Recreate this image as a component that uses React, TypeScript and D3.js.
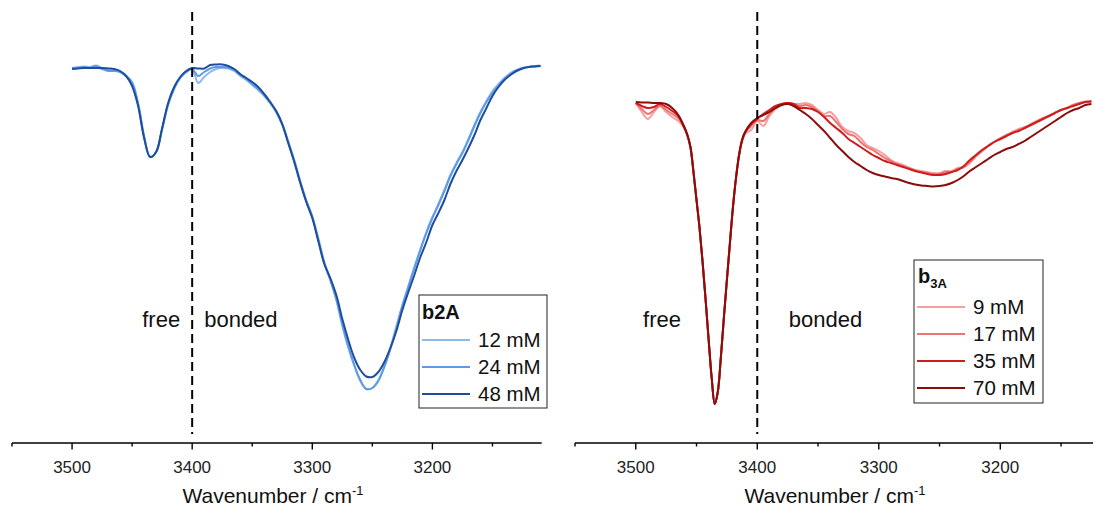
import React from "react";
import * as d3 from "d3";

// ---------- data ----------
// Left panel (b2A): wavenumber grid, cm-1
const b2AWavenumbers: number[] = d3.range(3500, 3109, -5);
const b2A_12mM = [93, 93.25, 93.38, 93.25, 93.63, 93, 92.5, 92.38, 92, 91, 89.5, 84.25, 76, 70.75, 72, 77.75, 83.75, 87.75, 90.5, 92, 92.75, 89.25, 90.75, 92, 92.75, 93, 92.88, 92.25, 91, 90, 88.75, 87.5, 86, 84.25, 82, 79, 74.75, 70, 64.75, 60, 56, 50.5, 44.5, 40, 35, 28.5, 23, 18.5, 14.75, 12.75, 13, 15, 18.5, 23, 28.5, 33.75, 38.5, 43.25, 47.75, 52, 55.75, 59, 62.5, 66.25, 69.25, 72, 75.25, 78.75, 82, 84.75, 87.25, 89, 90.5, 91.75, 92.5, 93, 93.25, 93.5, 93.63];
const b2A_24mM = [93, 93, 93.25, 93, 93.5, 92.75, 92.25, 92.25, 92, 91, 89.25, 84, 75.75, 70.75, 72, 77.75, 84, 88, 90.5, 92, 92.75, 91, 92, 92.88, 93.25, 93.25, 93.13, 92.5, 91.25, 90.25, 89, 87.75, 86.25, 84.25, 82, 78.75, 74.25, 69.75, 64.5, 59.75, 55.75, 50, 44.25, 40, 35.25, 29, 23.5, 18.75, 15, 12.75, 13, 14.75, 18.25, 22.75, 27.75, 33.5, 38.25, 43, 47.5, 51.75, 55.5, 58.75, 62.25, 66, 69, 71.75, 75, 78.5, 81.75, 84.5, 86.75, 88.5, 90.25, 91.5, 92.38, 93, 93.25, 93.38, 93.5];
const b2A_48mM = [92.75, 92.88, 93, 93, 93, 93, 92.88, 92.75, 92.25, 91, 88.5, 83.5, 75.5, 70.75, 72, 78, 84.25, 88.25, 90.75, 92.25, 93, 92.88, 92.88, 93.75, 93.88, 93.88, 93.5, 92.75, 91.5, 90.5, 89.5, 88.25, 86.5, 84.5, 82.25, 79, 74.25, 69.5, 64.25, 59.5, 55.5, 49.75, 44, 40.5, 36.25, 30.25, 25, 20.5, 17.5, 15.88, 15.75, 17, 19.5, 23, 27.25, 32.5, 37, 41.25, 45.75, 49.5, 53.75, 56.75, 60, 64, 67.25, 70, 73, 76.25, 80, 83, 86, 88.25, 90, 91.25, 92.25, 92.88, 93.25, 93.38, 93.5];

// Right panel (b3A)
const b3AWavenumbers: number[] = [
  ...d3.range(3500, 3462, -5),
  ...d3.range(3460, 3409, -2.5),
  ...d3.range(3405, 3124, -5),
];
const b3A_9mM = [84.25, 82, 80.25, 82, 83.5, 82, 80.75, 79.75,
  78, 76, 73.25, 67, 60, 53, 44.5, 35, 25, 15.5, 9, 12, 20.5, 30.5, 40, 49.25, 58.25, 65.5, 71, 74.5, 76.5,
  77.5, 79.75, 78.5, 81, 82.75, 83.75, 84.25, 84, 84, 84.25, 83.75, 82.5, 81.5, 82, 80.5, 78.25, 77.25, 76.75, 75.5, 73.75, 73, 72.25, 71.25, 70, 69.25, 68.75, 68, 67.5, 67.25, 67, 66.75, 66.75, 67.25, 67.25, 68, 68.25, 69.25, 71, 72.25, 73.5, 74.5, 75.5, 76.25, 77, 77.75, 78.25, 79, 79.75, 80.5, 81, 81.75, 82.5, 83, 83.75, 84.25, 84.63, 84.75];
const b3A_17mM = [84.25, 82.75, 81.5, 82.5, 83.5, 82.5, 81.5, 80.5,
  78.1, 76.1, 73.25, 67, 60, 53, 44.5, 35, 25, 15.5, 9, 12, 20.5, 30.5, 40, 49.25, 58.25, 65.5, 71.1, 74.75, 76.75,
  78.5, 80, 79.75, 81.5, 83, 84, 84.25, 84, 83.5, 83.75, 83.25, 82.25, 81, 81, 79.5, 77.75, 76.5, 76, 74.5, 73.25, 72.5, 71.5, 70.5, 69.75, 69, 68.5, 68, 67.38, 67, 66.75, 66.5, 66.5, 67, 67, 67.75, 68.25, 69.5, 71, 72.25, 73.5, 74.5, 75.25, 76, 76.75, 77.5, 78, 78.75, 79.5, 80.25, 81, 81.75, 82.5, 83, 83.75, 84.25, 84.5, 84.63];
const b3A_35mM = [84.25, 83.5, 83, 83.25, 84, 83.25, 82.25, 81,
  78, 76.25, 73.25, 67, 60, 53, 44.5, 35, 25, 15.5, 9, 12, 20.5, 30.5, 40, 49.25, 58.25, 65.5, 71.25, 75, 77,
  79, 80.25, 81.5, 82.5, 83.5, 84, 84.25, 84, 83, 83, 82.75, 82, 80.75, 79.25, 78, 76.75, 75.25, 74.25, 73.25, 72.25, 71.25, 70.5, 69.75, 69.25, 68.75, 68.25, 67.75, 67.25, 66.88, 66.5, 66.25, 66.25, 66.5, 67, 67.5, 68.5, 70, 71.25, 72.5, 73.5, 74.5, 75.25, 76, 76.75, 77.25, 78, 78.75, 79.5, 80.25, 81, 81.75, 82.5, 83, 83.5, 84, 84.5, 84.63];
const b3A_70mM = [84.5, 84.38, 84.38, 84.25, 84.25, 84, 83, 81.25,
  78.25, 76.25, 73.25, 67, 60, 53, 44.5, 35, 25, 15.5, 9, 12, 20.5, 30.5, 40, 49.25, 58.25, 65.5, 71.25, 75, 77,
  79.25, 80.5, 81.25, 82, 83, 83.75, 84, 83.5, 82.5, 81.5, 80.25, 78.75, 77.25, 75.5, 73.75, 72.25, 70.75, 69.5, 68.5, 67.5, 66.75, 66.25, 65.88, 65.5, 65.25, 64.75, 64.25, 63.88, 63.63, 63.5, 63.38, 63.5, 63.75, 64.25, 65, 66, 67.25, 68.25, 69.25, 70.25, 71.25, 72, 72.75, 73.25, 74, 74.75, 75.75, 76.75, 77.75, 78.75, 79.75, 80.75, 81.75, 82.5, 83, 83.75, 84];

const majorTicks = [3500, 3400, 3300, 3200];
const minorTicks = [3550, 3450, 3350, 3250, 3150];
const dividerWavenumber = 3400;

const b2ALabels = ["12 mM", "24 mM", "48 mM"];
const b3ALabels = ["9 mM", "17 mM", "35 mM", "70 mM"];
const b2AColors = ["#8db9ec", "#5f9ae6", "#1d4e9e"];
const b3AColors = ["#f5a0a0", "#ee7474", "#cf1d1d", "#8a0d0d"];

// ---------- layout ----------
const W = 1094;
const H = 511;
const FONT = "Arial, 'Liberation Sans', Helvetica, sans-serif";
const axisY = 443;
const yScale = d3.scaleLinear().domain([0, 100]).range([440, 40]);

type PanelProps = {
  xDomain: [number, number];
  xRange: [number, number];
  titleX: number;
  wn: number[];
  series: number[][];
  colors: string[];
  freeLabel: { wn: number; anchor: "start" | "end" };
  bondedLabel: { wn: number; anchor: "start" | "end" };
};

function Panel({ xDomain, xRange, titleX, wn, series, colors, freeLabel, bondedLabel }: PanelProps) {
  const x = d3.scaleLinear().domain(xDomain).range(xRange);
  const line = d3
    .line<number>()
    .x((_, i) => x(wn[i]))
    .y((d) => yScale(d))
    .curve(d3.curveCatmullRom.alpha(0.5));
  return (
    <g>
      {series.map((s, i) => (
        <path key={i} d={line(s) || ""} fill="none" stroke={colors[i]} strokeWidth={2} strokeLinejoin="round" />
      ))}
      <line
        x1={x(dividerWavenumber)}
        x2={x(dividerWavenumber)}
        y1={12}
        y2={434}
        stroke="#000"
        strokeWidth={2}
        strokeDasharray="9,5"
      />
      <text x={x(freeLabel.wn)} y={327} fontSize={22} textAnchor={freeLabel.anchor} fill="#111">free</text>
      <text x={x(bondedLabel.wn)} y={327} fontSize={22} textAnchor={bondedLabel.anchor} fill="#111">bonded</text>
      {/* axis */}
      <line x1={xRange[0]} x2={xRange[1]} y1={axisY} y2={axisY} stroke="#000" strokeWidth={1.4} />
      {majorTicks.map((t) => (
        <g key={"M" + t}>
          <line x1={x(t)} x2={x(t)} y1={axisY} y2={axisY + 6.5} stroke="#000" strokeWidth={1.4} />
          <text x={x(t)} y={473} fontSize={17} textAnchor="middle" fill="#222">{t}</text>
        </g>
      ))}
      {minorTicks
        .filter((t) => t <= xDomain[0] && t >= xDomain[1])
        .map((t) => (
          <line key={"m" + t} x1={x(t)} x2={x(t)} y1={axisY} y2={axisY + 3.5} stroke="#000" strokeWidth={1.4} />
        ))}
      <text x={titleX} y={503} fontSize={21} textAnchor="middle" fill="#111">
        Wavenumber / cm
        <tspan fontSize={13} dy={-8}>-1</tspan>
      </text>
    </g>
  );
}

type LegendProps = {
  x: number;
  y: number;
  w: number;
  h: number;
  title: React.ReactNode;
  labels: string[];
  colors: string[];
  firstY: number;
  step: number;
};

function Legend({ x, y, w, h, title, labels, colors, firstY, step }: LegendProps) {
  return (
    <g>
      <rect x={x} y={y} width={w} height={h} fill="#fff" stroke="#222" strokeWidth={1} />
      {title}
      {labels.map((l, i) => (
        <g key={l}>
          <line x1={x + 3} x2={x + 51} y1={firstY + i * step} y2={firstY + i * step} stroke={colors[i]} strokeWidth={2} />
          <text x={x + 59} y={firstY + i * step + 7} fontSize={20.5} fill="#111">{l}</text>
        </g>
      ))}
    </g>
  );
}

export default function App() {
  return (
    <div style={{ position: "fixed", left: 0, top: 0, width: W, height: H, background: "#fff" }}>
      <svg width={W} height={H} style={{ display: "block", fontFamily: FONT }}>
        <rect width={W} height={H} fill="#fff" />
        <Panel
          xDomain={[3550, 3109]}
          xRange={[12, 541.7]}
          titleX={273}
          wn={b2AWavenumbers}
          series={[b2A_12mM, b2A_24mM, b2A_48mM]}
          colors={b2AColors}
          freeLabel={{ wn: 3410, anchor: "end" }}
          bondedLabel={{ wn: 3390, anchor: "start" }}
        />
        <Panel
          xDomain={[3550, 3123.7]}
          xRange={[575, 1093]}
          titleX={835}
          wn={b3AWavenumbers}
          series={[b3A_9mM, b3A_17mM, b3A_35mM, b3A_70mM]}
          colors={b3AColors}
          freeLabel={{ wn: 3494, anchor: "start" }}
          bondedLabel={{ wn: 3374, anchor: "start" }}
        />
        <Legend
          x={419}
          y={295}
          w={128}
          h={113}
          title={<text x={422} y={319} fontSize={20} fontWeight="bold" fill="#111">b2A</text>}
          labels={b2ALabels}
          colors={b2AColors}
          firstY={340}
          step={27}
        />
        <Legend
          x={914}
          y={260}
          w={129}
          h={143}
          title={
            <text x={918} y={283} fontSize={20} fontWeight="bold" fill="#111">
              b<tspan fontSize={13} dy={5}>3A</tspan>
            </text>
          }
          labels={b3ALabels}
          colors={b3AColors}
          firstY={307}
          step={27}
        />
      </svg>
    </div>
  );
}
